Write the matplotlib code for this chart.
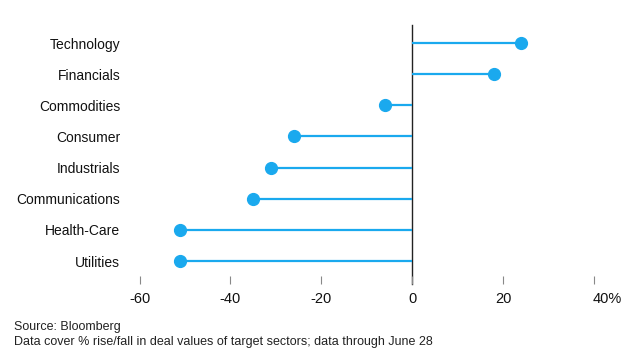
import matplotlib.pyplot as plt
import matplotlib.transforms as mtransforms

sectors = ['Technology', 'Financials', 'Commodities', 'Consumer',
           'Industrials', 'Communications', 'Health-Care', 'Utilities']
changes = [24, 18, -6, -26, -31, -35, -51, -51]
xticks = [-60, -40, -20, 0, 20, 40]
xtick_labels = ['-60', '-40', '-20', '0', '20', '40%']

plt.rcParams['font.family'] = ['Liberation Sans', 'DejaVu Sans']
BLUE = '#1AA9EE'

fig = plt.figure(figsize=(6.35, 3.6), dpi=100)
ax = fig.add_axes([139.6 / 635, 1 - 276 / 360, (594 - 139.6) / 635, (276 - 25) / 360])

# Technology at top
ypos = list(range(len(sectors)))[::-1]
ax.hlines(ypos, 0, changes, color=BLUE, linewidth=1.6, zorder=2)
ax.plot(changes, ypos, 'o', color=BLUE, markersize=8.5, zorder=3)

# zero line runs down through its tick mark
trans = mtransforms.blended_transform_factory(ax.transData, ax.transAxes)
ax.plot([0, 0], [1, -0.032], transform=trans, color='#222222',
        linewidth=1.0, zorder=1, clip_on=False)

ax.set_xlim(-60, 40)
ax.set_ylim(-0.48, 7.58)

ax.set_yticks(ypos)
ax.set_yticklabels(sectors, fontsize=10, color='#111111')
ax.tick_params(axis='y', length=0, pad=14)

ax.set_xticks(xticks)
ax.set_xticklabels(xtick_labels, fontsize=10.5, color='#111111')
ax.tick_params(axis='x', direction='out', length=5.8, width=0.8,
               color='#888888', pad=6)
# keep the "40" centred on its tick, "%" hangs to the right
last = ax.get_xticklabels()[-1]
last.set_transform(last.get_transform() +
                   mtransforms.ScaledTranslation(13 / 100, 0, fig.dpi_scale_trans))

for s in ax.spines.values():
    s.set_visible(False)

fig.text(14 / 635, 1 - 327 / 360, 'Source: Bloomberg', fontsize=9,
         color='#222222', va='center')
fig.text(14 / 635, 1 - 342 / 360,
         'Data cover % rise/fall in deal values of target sectors; data through June 28',
         fontsize=9, color='#222222', va='center')

fig.savefig('out.png', dpi=100)
